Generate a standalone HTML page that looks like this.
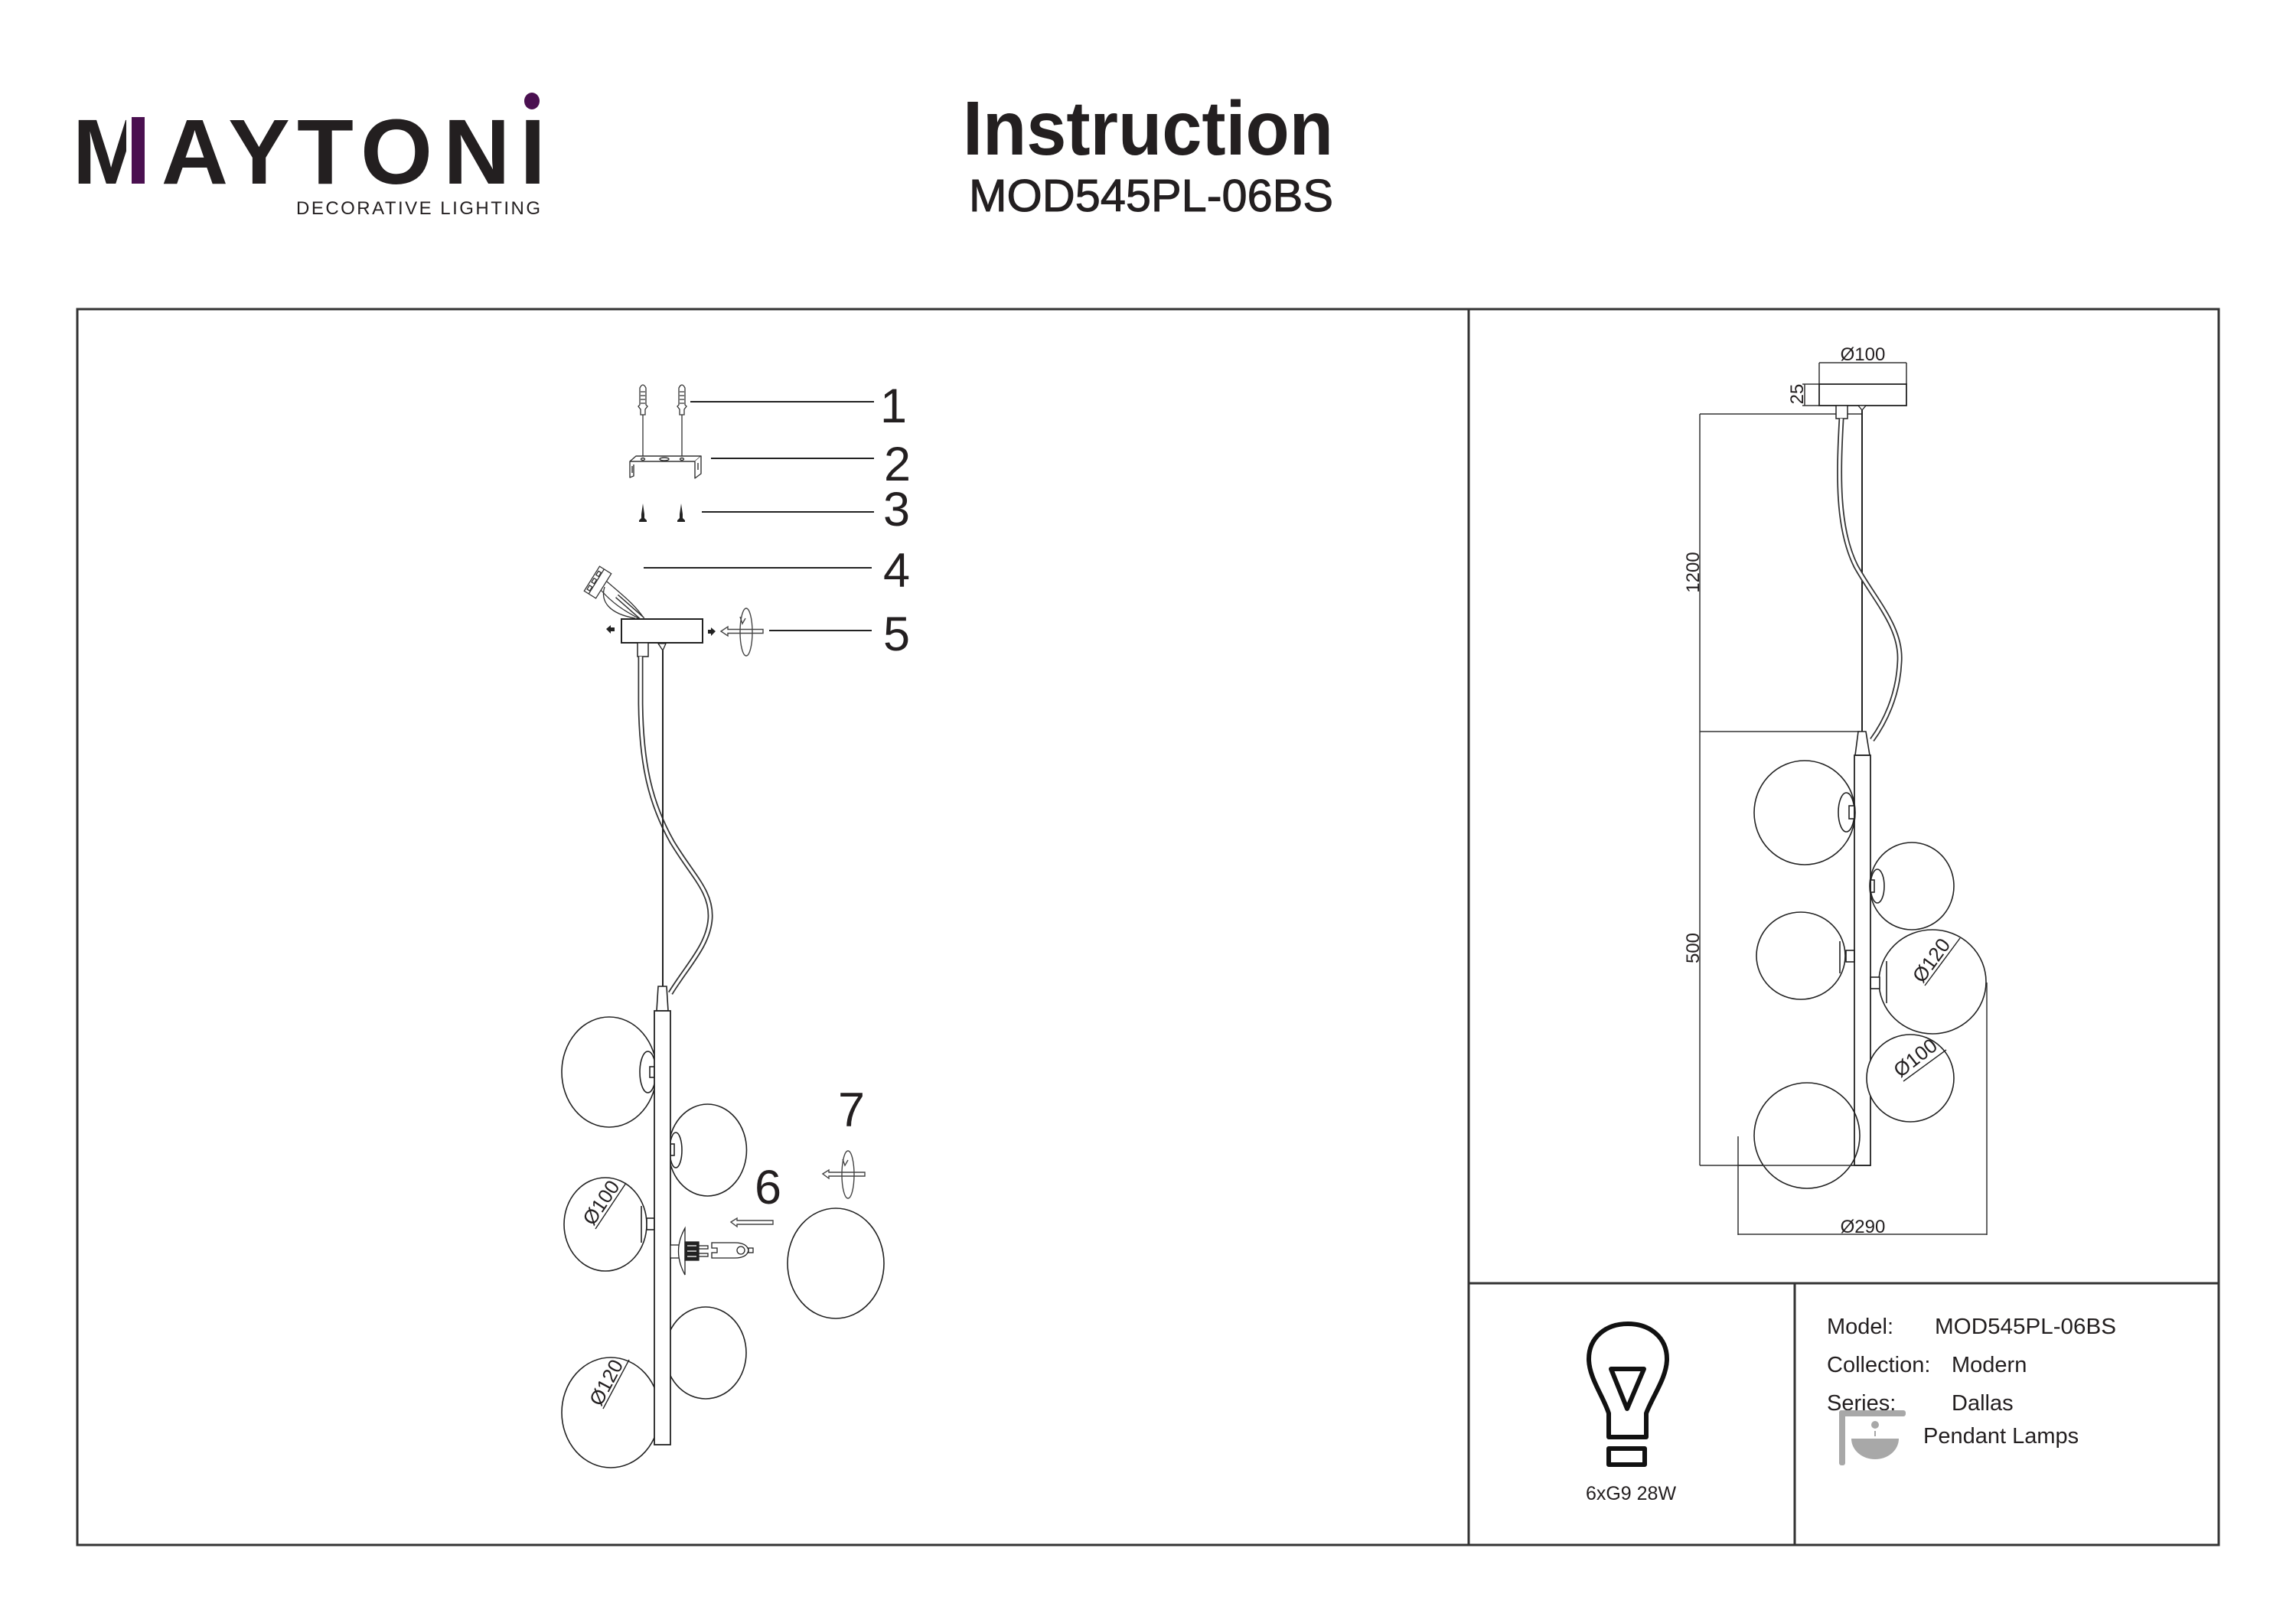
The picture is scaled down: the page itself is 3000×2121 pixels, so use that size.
<!DOCTYPE html>
<html><head><meta charset="utf-8"><style>
html,body{margin:0;padding:0;background:#fff;}
svg{display:block;}
text{font-family:"Liberation Sans",Arial,sans-serif;fill:#231f20;}
</style></head><body>
<svg width="3000" height="2121" viewBox="0 0 3000 2121" xmlns="http://www.w3.org/2000/svg">
<rect width="3000" height="2121" fill="#fff"/>

<!-- ===== LOGO ===== -->
<g font-weight="bold" font-size="121" text-anchor="middle">
  <text x="145" y="240">M</text>
  <text x="254.5" y="240">A</text>
  <text x="338.5" y="240">Y</text>
  <text x="425" y="240">T</text>
  <text x="518" y="240">O</text>
  <text x="623" y="240">N</text>
  <text x="696" y="240">I</text>
</g>
<rect x="165" y="150" width="8" height="92" fill="#fff"/>
<rect x="172" y="153" width="17" height="87" fill="#4a1050"/>
<ellipse cx="695" cy="132" rx="10" ry="11" fill="#4a1050"/>
<text x="387" y="280" font-size="24" textLength="319" lengthAdjust="spacing">DECORATIVE LIGHTING</text>

<!-- ===== TITLE ===== -->
<text x="1258" y="202" font-size="100" font-weight="bold" textLength="484" lengthAdjust="spacingAndGlyphs">Instruction</text>
<text x="1266" y="276" font-size="59" textLength="476" lengthAdjust="spacingAndGlyphs" stroke="#231f20" stroke-width="1">MOD545PL-06BS</text>

<!-- ===== FRAME ===== -->
<g stroke="#333" stroke-width="3" fill="none">
  <rect x="101" y="404" width="2798" height="1615"/>
  <line x1="1919" y1="404" x2="1919" y2="2019"/>
  <line x1="1919" y1="1677" x2="2899" y2="1677"/>
  <line x1="2345" y1="1677" x2="2345" y2="2019"/>
</g>

<!-- ===== LEFT ASSEMBLY ===== -->
<g stroke="#222" stroke-width="2" fill="none">
  <line x1="902" y1="525" x2="1142" y2="525"/>
  <line x1="929" y1="599" x2="1142" y2="599"/>
  <line x1="917" y1="669" x2="1142" y2="669"/>
  <line x1="841" y1="742" x2="1139" y2="742"/>
  <line x1="1005" y1="824" x2="1139" y2="824"/>
</g>
<g font-size="63">
  <text x="1150" y="552">1</text>
  <text x="1155" y="628">2</text>
  <text x="1154" y="687">3</text>
  <text x="1154" y="767">4</text>
  <text x="1154" y="850">5</text>
  <text x="986" y="1573">6</text>
  <text x="1095" y="1472">7</text>
</g>

<!-- wall plugs -->
<g stroke="#333" stroke-width="1.3" fill="#fff">
  <path d="M837 542 L837 535 L834 531 L836 529 L836 507 Q840 499 844 507 L844 529 L846 531 L843 535 L843 542 Z"/>
  <path d="M888 542 L888 535 L885 531 L887 529 L887 507 Q891 499 895 507 L895 529 L897 531 L894 535 L894 542 Z"/>
  <path d="M837 512 L843 512 M837 517 L843 517 M837 522 L843 522 M837 527 L843 527 M888 512 L894 512 M888 517 L894 517 M888 522 L894 522 M888 527 L894 527" fill="none"/>
  <line x1="840" y1="542" x2="840" y2="602"/>
  <line x1="891" y1="542" x2="891" y2="602"/>
</g>
<!-- bracket -->
<g stroke="#333" stroke-width="1.4" fill="#fff" stroke-linejoin="round">
  <path d="M831 596 L916 596 L908 603 L823 603 Z"/>
  <path d="M823 603 L823 624 L828 622 L828 607"/>
  <path d="M908 603 L908 625 L916 619 L916 596"/>
  <ellipse cx="840" cy="600" rx="2.5" ry="1.5"/>
  <ellipse cx="868" cy="600" rx="6" ry="2"/>
  <ellipse cx="891" cy="600" rx="2.5" ry="1.5"/>
  <line x1="826" y1="609" x2="826" y2="618"/>
  <line x1="912" y1="605" x2="912" y2="614"/>
</g>
<!-- screws -->
<g fill="#222">
  <polygon points="840,658 842,672 842,677 845,680 845,682 835,682 835,680 838,677 838,672"/>
  <polygon points="890,658 892,672 892,677 895,680 895,682 885,682 885,680 888,677 888,672"/>
</g>

<!-- terminal block + wires -->
<g stroke="#333" stroke-width="1.3" fill="#fff">
  <g transform="translate(781,761) rotate(-58)">
    <rect x="-19" y="-9" width="38" height="18"/>
    <line x1="-19" y1="-2" x2="19" y2="-2"/>
    <rect x="-15" y="-7" width="6" height="4"/>
    <rect x="-4" y="-7" width="6" height="4"/>
    <rect x="7" y="-7" width="6" height="4"/>
  </g>
  <path d="M793 760 C810 775 830 790 842 809" fill="none"/>
  <path d="M790 767 C784 786 796 802 830 808" fill="none"/>
  <path d="M785 771 C800 788 815 798 836 809" fill="none"/>
</g>
<path d="M806 779 L840 809" stroke="#333" stroke-width="6" fill="none"/>
<path d="M806 779 L840 809" stroke="#fff" stroke-width="3" fill="none"/>

<!-- canopy -->
<rect x="812" y="809" width="106" height="31" fill="#fff" stroke="#222" stroke-width="2"/>
<rect x="833" y="840" width="14" height="18" fill="#fff" stroke="#222" stroke-width="1.5"/>
<path d="M860 841 L870 841 L866 850 Z" fill="#fff" stroke="#222" stroke-width="1.3"/>
<polygon points="792,822 798,817 798,820 803,820 803,825 798,825 798,828" fill="#222"/>
<polygon points="935,825 929,820 929,823 925,823 925,828 929,828 929,831" fill="#222"/>
<!-- rotation arrow 5 -->
<g stroke="#444" stroke-width="1.4" fill="#fff">
  <polygon points="942,825 951,819 951,822.5 997,822.5 997,827.5 951,827.5 951,831"/>
  <ellipse cx="975" cy="826" rx="8" ry="31" fill="none"/>
  <polyline points="967,806 970,815 974,808" fill="none"/>
</g>

<!-- cable & cord -->
<path d="M837 858 L837 920 C838 1000 850 1050 878 1100 C905 1145 930 1165 928 1200 C926 1235 898 1262 876 1298" stroke="#333" stroke-width="7" fill="none"/>
<path d="M837 858 L837 920 C838 1000 850 1050 878 1100 C905 1145 930 1165 928 1200 C926 1235 898 1262 876 1298" stroke="#fff" stroke-width="3.5" fill="none"/>
<line x1="866" y1="850" x2="866" y2="1289" stroke="#222" stroke-width="2"/>

<!-- balls left -->
<g stroke="#222" stroke-width="1.6" fill="#fff">
  <ellipse cx="796" cy="1401" rx="62" ry="72"/>
  <ellipse cx="924.5" cy="1503" rx="51" ry="60"/>
  <ellipse cx="791" cy="1600" rx="54" ry="61"/>
  <ellipse cx="1092" cy="1651" rx="63" ry="72"/>
  <ellipse cx="922" cy="1768" rx="53" ry="60"/>
  <ellipse cx="798" cy="1846" rx="64" ry="72"/>
  <ellipse cx="846.5" cy="1401" rx="10.5" ry="27"/>
  <rect x="849" y="1394" width="6" height="14"/>
  <ellipse cx="883" cy="1503" rx="8" ry="23"/>
  <rect x="876" y="1495" width="5" height="15"/>
  <rect x="845" y="1592" width="10" height="15"/>
  <line x1="838" y1="1576" x2="838" y2="1624"/>
</g>
<!-- rod -->
<path d="M860 1289 L871 1289 L873 1321 L858 1321 Z" fill="#fff" stroke="#222" stroke-width="1.6"/>
<rect x="855" y="1321" width="21" height="567" fill="#fff" stroke="#222" stroke-width="1.8"/>
<!-- socket + bulb -->
<g stroke="#222" stroke-width="1.3" fill="#fff">
  <rect x="876" y="1627" width="12" height="17"/>
  <path d="M895 1605 Q878 1635 895 1666 Z"/>
  <rect x="895" y="1623" width="18" height="24" fill="#222"/>
  <line x1="898" y1="1628" x2="910" y2="1628" stroke="#fff"/>
  <line x1="898" y1="1635" x2="910" y2="1635" stroke="#fff"/>
  <line x1="898" y1="1642" x2="910" y2="1642" stroke="#fff"/>
  <rect x="913" y="1628" width="12" height="4"/>
  <rect x="913" y="1638" width="12" height="4"/>
  <path d="M930 1624 L960 1624 Q976 1624 978 1634 Q976 1644 960 1644 L930 1644 L930 1637 L937 1637 L937 1631 L930 1631 Z"/>
  <circle cx="968" cy="1634" r="5"/>
  <rect x="978" y="1631" width="6" height="6"/>
</g>
<!-- arrows 6 & 7 -->
<g stroke="#444" stroke-width="1.4" fill="#fff">
  <polygon points="955,1597 963,1592 963,1595 1010,1595 1010,1600 963,1600 963,1603"/>
  <polygon points="1075,1534 1083,1529 1083,1532 1130,1532 1130,1537 1083,1537 1083,1540"/>
  <ellipse cx="1108" cy="1535" rx="8" ry="31" fill="none"/>
  <polyline points="1101,1515 1104,1523 1108,1516" fill="none"/>
</g>
<!-- Ø labels left -->
<text transform="translate(775,1603) rotate(-56)" font-size="26">Ø100</text>
<line x1="778" y1="1606" x2="818" y2="1546" stroke="#222" stroke-width="1.4"/>
<text transform="translate(785,1839) rotate(-62)" font-size="26">Ø120</text>
<line x1="788" y1="1841" x2="822" y2="1777" stroke="#222" stroke-width="1.4"/>

<!-- ===== RIGHT DIMENSION DRAWING ===== -->
<g stroke="#333" stroke-width="1.5" fill="none">
  <line x1="2377" y1="474" x2="2491" y2="474"/>
  <line x1="2377" y1="474" x2="2377" y2="502"/>
  <line x1="2491" y1="474" x2="2491" y2="502"/>
  <line x1="2358" y1="502" x2="2358" y2="530"/>
  <line x1="2355" y1="502" x2="2377" y2="502"/>
  <line x1="2355" y1="530" x2="2377" y2="530"/>
  <line x1="2221" y1="541" x2="2221" y2="1523"/>
  <line x1="2221" y1="541" x2="2433" y2="541"/>
  <line x1="2221" y1="956" x2="2430" y2="956"/>
  <line x1="2221" y1="1523" x2="2444" y2="1523"/>
  <line x1="2271" y1="1485" x2="2271" y2="1614"/>
  <line x1="2596" y1="1284" x2="2596" y2="1614"/>
  <line x1="2271" y1="1613" x2="2596" y2="1613"/>
</g>
<rect x="2377" y="502" width="114" height="28" fill="#fff" stroke="#222" stroke-width="1.8"/>
<rect x="2399" y="530" width="15" height="17" fill="#fff" stroke="#222" stroke-width="1.5"/>
<path d="M2428 530 L2438 530 L2433 536 Z" fill="#fff" stroke="#222" stroke-width="1.3"/>
<line x1="2433" y1="536" x2="2433" y2="956" stroke="#222" stroke-width="2"/>
<path d="M2406 547 C2402 620 2400 690 2425 740 C2450 785 2485 820 2482 865 C2480 910 2462 945 2446 967" stroke="#333" stroke-width="7" fill="none"/>
<path d="M2406 547 C2402 620 2400 690 2425 740 C2450 785 2485 820 2482 865 C2480 910 2462 945 2446 967" stroke="#fff" stroke-width="3.5" fill="none"/>

<g stroke="#222" stroke-width="1.6" fill="#fff">
  <ellipse cx="2358" cy="1062" rx="66" ry="68"/>
  <ellipse cx="2498" cy="1158" rx="55" ry="57"/>
  <ellipse cx="2353" cy="1249" rx="58" ry="57"/>
  <ellipse cx="2525" cy="1283" rx="70" ry="68"/>
  <ellipse cx="2361" cy="1484" rx="69" ry="69"/>
  <ellipse cx="2412.5" cy="1061.5" rx="10.5" ry="25.5"/>
  <rect x="2416" y="1053" width="7" height="17"/>
  <ellipse cx="2453" cy="1158" rx="9" ry="22"/>
  <rect x="2444" y="1150" width="5" height="16"/>
  <rect x="2412" y="1242" width="11" height="15"/>
  <line x1="2404" y1="1230" x2="2404" y2="1272"/>
  <rect x="2444" y="1277" width="12" height="15"/>
  <line x1="2465" y1="1256" x2="2465" y2="1311"/>
</g>
<path d="M2428 956 L2438 956 L2443 987 L2424 987 Z" fill="#fff" stroke="#222" stroke-width="1.6"/>
<rect x="2423" y="987" width="21" height="536" fill="none" stroke="#222" stroke-width="1.8"/>
<ellipse cx="2496" cy="1409" rx="57" ry="57" fill="#fff" stroke="#222" stroke-width="1.6"/>
<line x1="2271" y1="1523" x2="2423" y2="1523" stroke="#333" stroke-width="1.5"/>

<g font-size="24">
  <text x="2434" y="471" text-anchor="middle">Ø100</text>
  <text transform="translate(2356,515) rotate(-90)" text-anchor="middle">25</text>
  <text transform="translate(2220,748) rotate(-90)" text-anchor="middle">1200</text>
  <text transform="translate(2220,1239) rotate(-90)" text-anchor="middle">500</text>
  <text x="2434" y="1611" text-anchor="middle">Ø290</text>
</g>
<text transform="translate(2512,1286) rotate(-54)" font-size="26">Ø120</text>
<line x1="2515" y1="1288" x2="2561" y2="1226" stroke="#222" stroke-width="1.4"/>
<text transform="translate(2483,1409) rotate(-38)" font-size="26">Ø100</text>
<line x1="2487" y1="1413" x2="2543" y2="1372" stroke="#222" stroke-width="1.4"/>

<!-- ===== BOTTOM INFO ===== -->
<g stroke="#111" stroke-width="6" fill="none" stroke-linejoin="round">
  <path d="M2102 1878 L2102 1847 C2095 1825 2076 1800 2076 1776 C2076 1748 2098 1730 2127 1730 C2156 1730 2178 1748 2178 1776 C2178 1800 2159 1825 2151 1847 L2151 1878 Z"/>
  <path d="M2105 1789 L2148 1789 L2126 1841 Z"/>
  <rect x="2102" y="1893" width="47" height="21"/>
</g>
<text x="2131" y="1960" font-size="25" text-anchor="middle">6xG9 28W</text>

<g font-size="29">
  <text x="2387" y="1743">Model:</text>
  <text x="2528" y="1743" textLength="237" lengthAdjust="spacingAndGlyphs">MOD545PL-06BS</text>
  <text x="2387" y="1793">Collection:</text>
  <text x="2550" y="1793">Modern</text>
  <text x="2387" y="1843">Series:</text>
  <text x="2550" y="1843">Dallas</text>
  <text x="2513" y="1886">Pendant Lamps</text>
</g>
<g fill="#a8a8a8">
  <rect x="2403" y="1843" width="8" height="72" rx="3"/>
  <rect x="2403" y="1843" width="87" height="8" rx="3"/>
  <circle cx="2450" cy="1862" r="5"/>
  <rect x="2449" y="1870" width="2" height="7"/>
  <path d="M2419 1880 L2481 1880 A31 27 0 0 1 2419 1880 Z"/>
</g>
</svg>
</body></html>
